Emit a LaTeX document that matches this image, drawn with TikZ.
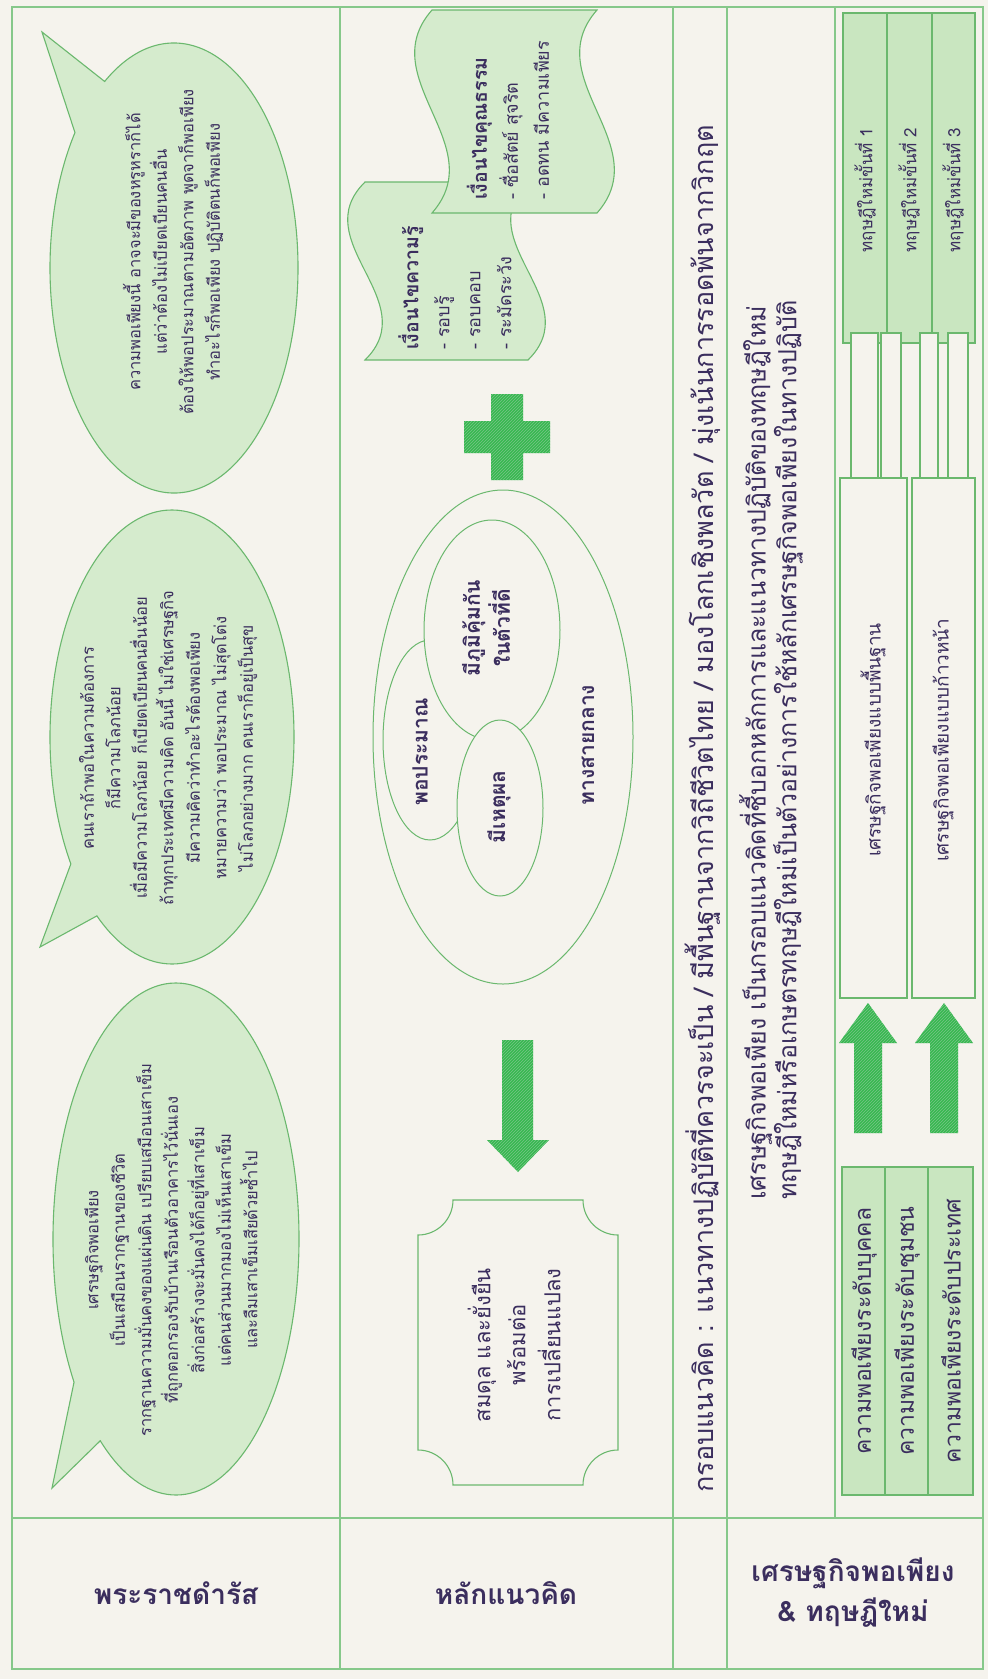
\documentclass[tikz,border=0pt]{standalone}
\usepackage{fontspec}
\setmainfont[Script=Thai]{Loma}
\newfontfamily\thai[Script=Thai]{Loma}
\usetikzlibrary{patterns}
\definecolor{bg}{HTML}{F5F3ED}
\definecolor{rulecol}{HTML}{86C88A}
\definecolor{bubblefill}{HTML}{D5EBCD}
\definecolor{bubbleline}{HTML}{6BB86E}
\definecolor{boxfill}{HTML}{C9E6C0}
\definecolor{arrowgreen}{HTML}{36B94F}
\definecolor{hatchcol}{HTML}{1E9B3A}
\definecolor{ink}{HTML}{3B2E5E}
\begin{document}
\begin{tikzpicture}[x=1pt,y=-1pt,
  tablerule/.style={draw=rulecol, line width=1.4pt},
  bubble/.style={fill=bubblefill, draw=bubbleline, line width=1.1pt},
  flag/.style={fill=bubblefill, draw=bubbleline, line width=1.1pt},
  ring/.style={fill=bg, draw=bubbleline, line width=1pt},
  gbox/.style={fill=boxfill, draw=bubbleline, line width=1.1pt},
  wbox/.style={fill=bg, draw=bubbleline, line width=1.1pt},
  blockarrow/.style={fill=arrowgreen, postaction={pattern=north east lines, pattern color=hatchcol!60}},
  rtxt/.style={text=ink, rotate=90, inner sep=0pt},
  bubbletxt/.style={rtxt, align=center, font=\thai\fontsize{16.5}{26.5}\selectfont},
  flagtxt/.style={rtxt, align=left, anchor=west, font=\thai\fontsize{18}{31}\selectfont},
  ringtxt/.style={rtxt, align=center, font=\thai\bfseries\fontsize{21}{30}\selectfont},
  striptxt/.style={rtxt, align=left, anchor=west},
  boxtxt/.style={rtxt, align=center, font=\thai\fontsize{17}{20}\selectfont},
  levtxt/.style={rtxt, align=center, font=\thai\fontsize{23}{26}\selectfont},
  longtxt/.style={rtxt, align=center, font=\thai\fontsize{19}{22}\selectfont},
  headtxt/.style={text=ink, align=center, inner sep=0pt, font=\thai\bfseries\fontsize{28}{40}\selectfont}
]
\useasboundingbox (0,0) rectangle (988,1679);
\fill[bg] (0,0) rectangle (988,1679);

% ---------- table frame ----------
\draw[tablerule] (12,7) rectangle (983,1669);
\draw[tablerule, line width=2pt] (12,1518) -- (983,1518);
\draw[tablerule] (340,7) -- (340,1669);
\draw[tablerule] (673,7) -- (673,1669);
\draw[tablerule] (727,7) -- (727,1669);
\draw[tablerule] (835,7) -- (835,1518);

% ---------- column A : speech bubbles ----------
\path[bubble] (174,268) ++(236:124 and 225)
  arc[start angle=236, end angle=577, x radius=124, y radius=225] -- (42,32) -- cycle;
\node[bubbletxt] (q1) at (173,252) {ความพอเพียงนี้ อาจจะมีของหรูหราก็ได้\\แต่ว่าต้องไม่เบียดเบียนคนอื่น\\ต้องให้พอประมาณตามอัตภาพ พูดจาก็พอเพียง\\ทำอะไรก็พอเพียง ปฏิบัติตนก็พอเพียง};

\path[bubble] (172,737) ++(146:122 and 227)
  arc[start angle=146, end angle=488, x radius=122, y radius=227] -- (40,947) -- cycle;
\node[bubbletxt] (q2) at (168,748) {คนเราถ้าพอในความต้องการ\\ก็มีความโลภน้อย\\เมื่อมีความโลภน้อย ก็เบียดเบียนคนอื่นน้อย\\ถ้าทุกประเทศมีความคิด อันนี้ ไม่ใช่เศรษฐกิจ\\มีความคิดว่าทำอะไรต้องพอเพียง\\หมายความว่า พอประมาณ ไม่สุดโต่ง\\ไม่โลภอย่างมาก คนเราก็อยู่เป็นสุข};

\path[bubble] (176,1239) ++(146:123 and 256)
  arc[start angle=146, end angle=488, x radius=123, y radius=256] -- (52,1488) -- cycle;
\node[bubbletxt] (q3) at (171,1250) {เศรษฐกิจพอเพียง\\เป็นเสมือนรากฐานของชีวิต\\รากฐานความมั่นคงของแผ่นดิน เปรียบเสมือนเสาเข็ม\\ที่ถูกตอกรองรับบ้านเรือนตัวอาคารไว้นั่นเอง\\สิ่งก่อสร้างจะมั่นคงได้ก็อยู่ที่เสาเข็ม\\แต่คนส่วนมากมองไม่เห็นเสาเข็ม\\และลืมเสาเข็มเสียด้วยซ้ำไป};

% ---------- column B ----------
% flag 1 (knowledge)
\path[flag] (365,182) -- (528,182) .. controls (468,241) and (588,301) .. (528,360)
  -- (365,360) .. controls (425,301) and (305,241) .. (365,182) -- cycle;
% flag 2 (morality)
\path[flag] (432,10) -- (597,10) .. controls (537,78) and (657,145) .. (597,213)
  -- (432,213) .. controls (492,145) and (372,78) .. (432,10) -- cycle;
\node[flagtxt] (k1) at (455,350) {{\bfseries\fontsize{19.5}{31}\selectfont เงื่อนไขความรู้}\\- รอบรู้\\- รอบคอบ\\- ระมัดระวัง};
\node[flagtxt] (k2) at (508,200) {{\bfseries\fontsize{19.5}{31}\selectfont เงื่อนไขคุณธรรม}\\- ซื่อสัตย์ สุจริต\\- อดทน มีความเพียร};

% plus sign
\path[blockarrow] (491,394) -- (523,394) -- (523,421) -- (550,421) -- (550,453) -- (523,453)
  -- (523,480) -- (491,480) -- (491,453) -- (464,453) -- (464,421) -- (491,421) -- cycle;

% rings
\path[ring] (503,737) ellipse[x radius=130, y radius=247];
\path[ring] (430,740) ellipse[x radius=47, y radius=100];
\path[ring] (492,630) ellipse[x radius=68, y radius=110];
\path[ring] (500,808) ellipse[x radius=43, y radius=88];
\node[ringtxt] (r1) at (420,752) {พอประมาณ};
\node[ringtxt] (r2) at (486,628) {มีภูมิคุ้มกัน\\ในตัวที่ดี};
\node[ringtxt] (r3) at (499,807) {มีเหตุผล};
\node[ringtxt] (r4) at (588,745) {ทางสายกลาง};

% down arrow
\path[blockarrow] (502,1040) -- (533,1040) -- (533,1140) -- (549,1140) -- (518,1172)
  -- (487,1140) -- (502,1140) -- cycle;

% scooped box
\path[wbox] (453,1200) -- (583,1200) arc[start angle=180, end angle=90, radius=35]
  -- (618,1450) arc[start angle=270, end angle=180, radius=35]
  -- (453,1485) arc[start angle=0, end angle=-90, radius=35]
  -- (418,1235) arc[start angle=90, end angle=0, radius=35] -- cycle;
\node[rtxt, align=center, font=\thai\fontsize{22}{35}\selectfont] (res) at (514,1345) {สมดุล และยั่งยืน\\พร้อมต่อ\\การเปลี่ยนแปลง};

% ---------- column C1 / C2 ----------
\node[striptxt, font=\thai\fontsize{27}{30}\selectfont] (c1) at (703,1493) {กรอบแนวคิด : แนวทางปฏิบัติที่ควรจะเป็น / มีพื้นฐานจากวิถีชีวิตไทย / มองโลกเชิงพลวัต / มุ่งเน้นการรอดพ้นจากวิกฤต};
\node[striptxt, font=\thai\fontsize{25}{28}\selectfont] (c2) at (771,1200) {เศรษฐกิจพอเพียง เป็นกรอบแนวคิดที่ชี้บอกหลักการและแนวทางปฏิบัติของทฤษฎีใหม่\\ทฤษฎีใหม่หรือเกษตรทฤษฎีใหม่เป็นตัวอย่างการใช้หลักเศรษฐกิจพอเพียงในทางปฏิบัติ};

% ---------- column C3 ----------
\path[gbox] (843,13) rectangle (975,343);
\draw[bubbleline, line width=1.1pt] (887,13) -- (887,343) (932,13) -- (932,343);
\node[boxtxt] (t1) at (865,190) {ทฤษฎีใหม่ขั้นที่ 1};
\node[boxtxt] (t2) at (909,190) {ทฤษฎีใหม่ขั้นที่ 2};
\node[boxtxt] (t3) at (953,190) {ทฤษฎีใหม่ขั้นที่ 3};

\path[wbox] (851,333) rectangle (878,482);
\path[wbox] (881,333) rectangle (901,482);
\path[wbox] (920,333) rectangle (938,482);
\path[wbox] (948,333) rectangle (968,482);

\path[wbox] (840,478) rectangle (907,998);
\path[wbox] (912,478) rectangle (975,998);
\node[longtxt] (e1) at (873,740) {เศรษฐกิจพอเพียงแบบพื้นฐาน};
\node[longtxt] (e2) at (943,740) {เศรษฐกิจพอเพียงแบบก้าวหน้า};

\path[blockarrow] (854,1133) -- (854,1043) -- (839,1043) -- (868,1003) -- (897,1043)
  -- (882,1043) -- (882,1133) -- cycle;
\path[blockarrow] (930,1133) -- (930,1043) -- (915,1043) -- (944,1003) -- (973,1043)
  -- (958,1043) -- (958,1133) -- cycle;

\path[gbox] (842,1167) rectangle (973,1495);
\draw[bubbleline, line width=1.1pt] (885,1167) -- (885,1495) (928,1167) -- (928,1495);
\node[levtxt] (p1) at (864,1331) {ความพอเพียงระดับบุคคล};
\node[levtxt] (p2) at (907,1331) {ความพอเพียงระดับชุมชน};
\node[levtxt] (p3) at (951,1331) {ความพอเพียงระดับประเทศ};

% ---------- header row ----------
\node[headtxt] (h1) at (176,1593) {พระราชดำรัส};
\node[headtxt] (h2) at (506,1593) {หลักแนวคิด};
\node[headtxt] (h3) at (853,1593) {เศรษฐกิจพอเพียง\\\& ทฤษฎีใหม่};
\end{tikzpicture}
\end{document}
